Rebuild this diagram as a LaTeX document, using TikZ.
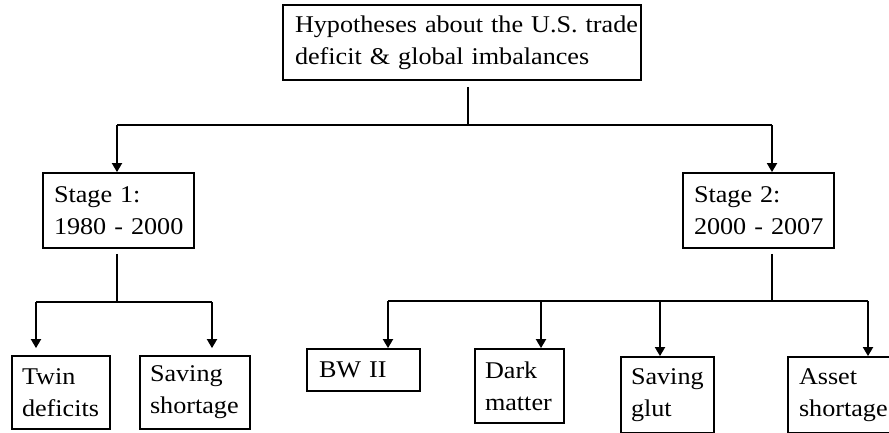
\documentclass[tikz,border=0pt]{standalone}
\usepackage{fontspec}
\setmainfont[FakeStretch=1.09]{Liberation Serif}
\usetikzlibrary{arrows.meta}
\begin{document}
\begin{tikzpicture}[x=1pt,y=-1pt,
  box/.style={draw, line width=1.8pt, align=left, inner xsep=11pt, inner ysep=0pt,
    font=\fontsize{24}{32}\selectfont, anchor=center},
  wire/.style={line width=1.8pt},
  arr/.style={line width=1.8pt, -{Triangle[width=10pt,length=9pt]}}]
\useasboundingbox (0,0) rectangle (889,432);
% boxes
\node[box, inner xsep=12pt, text width=334pt, minimum height=75pt] (top) at (462,42.5)
  {\mbox{Hypotheses about the U.S. trade}\\\mbox{deficit \& global imbalances}};
\node[box, text width=129pt, minimum height=75pt] (s1) at (118.5,210.5)
  {\mbox{Stage 1:}\\\mbox{1980 - 2000}};
\node[box, text width=129pt, minimum height=75pt] (s2) at (758.5,210.5)
  {\mbox{Stage 2:}\\\mbox{2000 - 2007}};
\node[box, inner xsep=10pt, text width=78pt, minimum height=73pt] (twin) at (61,392.5)
  {\mbox{Twin}\\\mbox{deficits}};
\node[box, inner xsep=10pt, text width=90pt, minimum height=73pt] (sshort) at (195,392.5)
  {\mbox{Saving}\\\mbox{shortage}};
\node[box, inner xsep=12pt, text width=89pt, minimum height=42pt] (bw) at (363.5,370)
  {\mbox{BW II}};
\node[box, inner xsep=10pt, text width=69pt, minimum height=74pt] (dark) at (519.5,386)
  {\mbox{Dark}\\\mbox{matter}};
\node[box, inner xsep=10pt, text width=73pt, minimum height=76pt] (glut) at (667.5,395)
  {\mbox{Saving}\\\mbox{glut}};
\node[box, text width=90pt, minimum height=76pt] (asset) at (844,395)
  {\mbox{Asset}\\\mbox{shortage}};
% junction coordinates
\coordinate (h0M) at (468,125);
\coordinate (h0L) at (117,125);
\coordinate (h0R) at (772,125);
\coordinate (h1M) at (117,302);
\coordinate (h1L) at (36,302);
\coordinate (h1R) at (212,302);
\coordinate (h2M) at (772,301);
\coordinate (h2A) at (388,301);
\coordinate (h2B) at (541,301);
\coordinate (h2C) at (660,301);
\coordinate (h2D) at (868,301);
% level 1
\draw[wire, shorten <=6pt] (top.south -| h0M) -- (h0M);
\draw[wire] (h0L) -- (h0R);
\draw[arr] (h0L) -- (h0L |- s1.north);
\draw[arr] (h0R) -- (h0R |- s2.north);
% stage 1
\draw[wire, shorten <=5pt] (s1.south -| h1M) -- (h1M);
\draw[wire] (h1L) -- (h1R);
\draw[arr, shorten >=7pt] (h1L) -- (h1L |- twin.north);
\draw[arr, shorten >=7pt] (h1R) -- (h1R |- sshort.north);
% stage 2
\draw[wire, shorten <=5pt] (s2.south -| h2M) -- (h2M);
\draw[wire] (h2A) -- (h2D);
\draw[arr] (h2A) -- (h2A |- bw.north);
\draw[arr] (h2B) -- (h2B |- dark.north);
\draw[arr] (h2C) -- (h2C |- glut.north);
\draw[arr] (h2D) -- (h2D |- asset.north);
\end{tikzpicture}
\end{document}
